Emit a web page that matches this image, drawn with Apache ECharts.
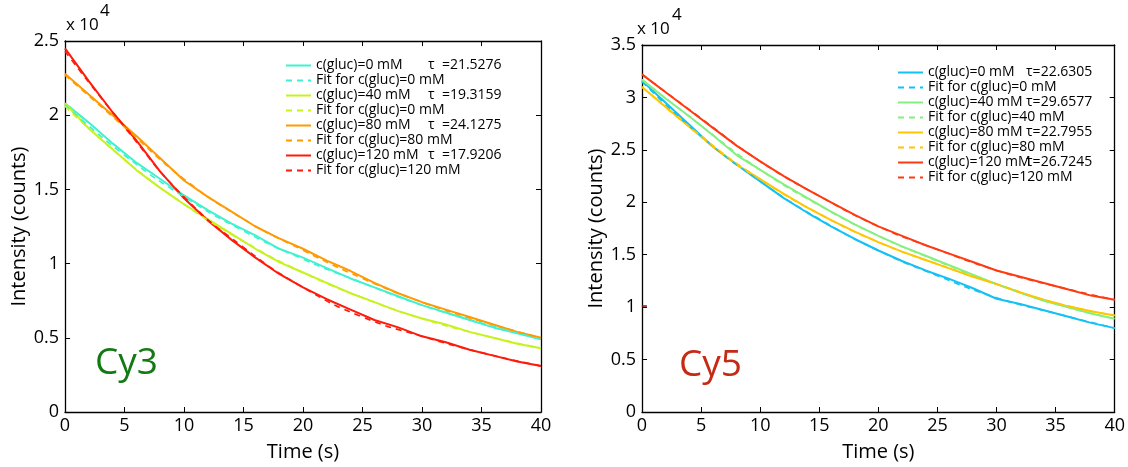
<!DOCTYPE html>
<html>
<head>
<meta charset="utf-8">
<script src="https://cdn.jsdelivr.net/npm/echarts@6/dist/echarts.min.js"></script>
<style>
html, body { margin: 0; padding: 0; background: #fff; }
#chart { width: 1128px; height: 467px; }
</style>
</head>
<body>
<div id="chart"></div>
<script>
// time grid (s) for the measured traces and for the fits
var times = [0, 2, 4, 6, 8, 10, 12, 14, 16, 18, 20, 22, 24, 26, 28, 30, 32, 34, 36, 38, 40];
var fitTimes = [0, 5, 10, 15, 20, 25, 30, 35, 40];

// Cy3 intensities (x 10^4 counts)
var cy3Gluc0   = [2.08, 1.95, 1.81, 1.68, 1.57, 1.46, 1.36, 1.27, 1.19, 1.10, 1.04, 0.97, 0.90, 0.84, 0.78, 0.72, 0.67, 0.62, 0.57, 0.53, 0.49];
var cy3Gluc40  = [2.08, 1.91, 1.77, 1.63, 1.51, 1.40, 1.30, 1.20, 1.10, 1.01, 0.94, 0.87, 0.80, 0.74, 0.68, 0.63, 0.59, 0.54, 0.50, 0.46, 0.43];
var cy3Gluc80  = [2.28, 2.14, 2.00, 1.86, 1.71, 1.56, 1.45, 1.35, 1.25, 1.17, 1.10, 1.02, 0.95, 0.87, 0.80, 0.74, 0.69, 0.64, 0.59, 0.54, 0.50];
var cy3Gluc120 = [2.45, 2.23, 2.02, 1.83, 1.62, 1.44, 1.29, 1.16, 1.04, 0.93, 0.84, 0.76, 0.69, 0.62, 0.57, 0.51, 0.47, 0.42, 0.38, 0.34, 0.31];
var cy3Fit0   = [2.07, 1.73, 1.45, 1.22, 1.03, 0.87, 0.72, 0.60, 0.49];
var cy3Fit40  = [2.06, 1.70, 1.40, 1.15, 0.94, 0.77, 0.63, 0.52, 0.43];
var cy3Fit80  = [2.27, 1.92, 1.57, 1.30, 1.09, 0.90, 0.74, 0.61, 0.50];
var cy3Fit120 = [2.43, 1.92, 1.45, 1.11, 0.84, 0.64, 0.51, 0.40, 0.31];

// Cy5 intensities (x 10^4 counts)
var cy5Gluc0   = [3.16, 2.95, 2.74, 2.53, 2.36, 2.20, 2.04, 1.90, 1.77, 1.65, 1.54, 1.44, 1.35, 1.27, 1.18, 1.08, 1.03, 0.97, 0.91, 0.85, 0.80];
var cy5Gluc40  = [3.17, 2.99, 2.82, 2.64, 2.45, 2.31, 2.17, 2.04, 1.91, 1.79, 1.68, 1.58, 1.49, 1.40, 1.31, 1.22, 1.14, 1.06, 1.00, 0.94, 0.89];
var cy5Gluc80  = [3.10, 2.91, 2.72, 2.53, 2.36, 2.22, 2.08, 1.95, 1.83, 1.72, 1.62, 1.53, 1.45, 1.37, 1.29, 1.22, 1.14, 1.07, 1.01, 0.96, 0.92];
var cy5Gluc120 = [3.22, 3.05, 2.88, 2.71, 2.54, 2.39, 2.25, 2.12, 2.00, 1.88, 1.77, 1.68, 1.59, 1.51, 1.43, 1.35, 1.29, 1.23, 1.17, 1.11, 1.07];
var cy5Fit0   = [3.15, 2.63, 2.20, 1.84, 1.54, 1.30, 1.09, 0.94, 0.80];
var cy5Fit40  = [3.17, 2.73, 2.31, 1.97, 1.68, 1.44, 1.22, 1.03, 0.89];
var cy5Fit80  = [3.10, 2.63, 2.22, 1.89, 1.62, 1.41, 1.22, 1.04, 0.92];
var cy5Fit120 = [3.22, 2.80, 2.39, 2.06, 1.77, 1.55, 1.35, 1.20, 1.07];
var cy5Stray = [[0.2, 1.01]];

var xTicks = [0, 40, 5];
var cy3YTicks = [0, 2.5, 0.5];
var cy5YTicks = [0, 3.5, 0.5];

var cy3Colors = ['#3ff2cf', '#c6f21e', '#ff9a00', '#ff1a0a'];
var cy5Colors = ['#14c1f5', '#84f07e', '#ffc600', '#ff3a12'];

var cy3Labels = {
    'cy3 0': ['c(gluc)=0 mM', 'τ  =21.5276'],
    'cy3 0 fit': ['Fit for c(gluc)=0 mM'],
    'cy3 40': ['c(gluc)=40 mM', 'τ  =19.3159'],
    'cy3 40 fit': ['Fit for c(gluc)=0 mM'],
    'cy3 80': ['c(gluc)=80 mM', 'τ  =24.1275'],
    'cy3 80 fit': ['Fit for c(gluc)=80 mM'],
    'cy3 120': ['c(gluc)=120 mM', 'τ  =17.9206'],
    'cy3 120 fit': ['Fit for c(gluc)=120 mM']
};
var cy5Labels = {
    'cy5 0': ['c(gluc)=0 mM', 'τ=22.6305'],
    'cy5 0 fit': ['Fit for c(gluc)=0 mM'],
    'cy5 40': ['c(gluc)=40 mM', 'τ=29.6577'],
    'cy5 40 fit': ['Fit for c(gluc)=40 mM'],
    'cy5 80': ['c(gluc)=80 mM', 'τ=22.7955'],
    'cy5 80 fit': ['Fit for c(gluc)=80 mM'],
    'cy5 120': ['c(gluc)=120 mM', 'τ=26.7245'],
    'cy5 120 fit': ['Fit for c(gluc)=120 mM']
};

var FONT = 'Open Sans';

function pairs(t, v) {
    return t.map(function (x, i) { return [x, v[i]]; });
}

function line(name, t, v, color, dashed, axisIdx) {
    return {
        name: name,
        type: 'line',
        xAxisIndex: axisIdx,
        yAxisIndex: axisIdx,
        symbol: 'none',
        smooth: dashed ? true : false,
        animation: false,
        data: pairs(t, v),
        lineStyle: {
            color: color,
            width: dashed ? 1.6 : 2,
            type: dashed ? [6, 5] : 'solid'
        },
        itemStyle: { color: color }
    };
}

function xAxis(grid, pos) {
    return {
        type: 'value', gridIndex: grid, position: pos,
        min: xTicks[0], max: xTicks[1], interval: xTicks[2],
        axisLine: { onZero: false, lineStyle: { color: '#000', width: 1.3 } },
        axisTick: { inside: true, length: 5, lineStyle: { color: '#000' } },
        axisLabel: { show: pos == 'bottom', color: '#000', fontSize: 18, fontFamily: FONT, margin: 5 },
        splitLine: { show: false },
        name: pos == 'bottom' ? 'Time (s)' : '',
        nameLocation: 'middle',
        nameGap: 30,
        nameTextStyle: { color: '#000', fontSize: 20, fontFamily: FONT }
    };
}

function yAxis(grid, pos, ticks) {
    return {
        type: 'value', gridIndex: grid, position: pos,
        min: ticks[0], max: ticks[1], interval: ticks[2],
        axisLine: { onZero: false, lineStyle: { color: '#000', width: 1.3 } },
        axisTick: { inside: true, length: 5, lineStyle: { color: '#000' } },
        axisLabel: { show: pos == 'left', color: '#000', fontSize: 18, fontFamily: FONT, margin: 6 },
        splitLine: { show: false },
        name: pos == 'left' ? 'Intensity (counts)' : '',
        nameLocation: 'middle',
        nameGap: 33,
        nameTextStyle: { color: '#000', fontSize: 20, fontFamily: FONT }
    };
}

function legend(names, labels, left, top, colWidth) {
    return {
        data: names,
        orient: 'vertical',
        left: left,
        top: top,
        itemWidth: 25,
        itemHeight: 15,
        itemGap: 0,
        padding: 0,
        selectedMode: false,
        itemStyle: { color: 'rgba(0,0,0,0)', borderWidth: 0, opacity: 0 },
        textStyle: {
            color: '#000', fontSize: 14, fontFamily: FONT, lineHeight: 15,
            rich: {
                a: { width: colWidth, fontSize: 14, fontFamily: FONT, color: '#000' },
                b: { fontSize: 14, fontFamily: FONT, color: '#000' },
                c: { fontSize: 14, fontFamily: FONT, color: '#000' }
            }
        },
        formatter: function (name) {
            var l = labels[name];
            if (l.length == 1) return '{c|' + l[0] + '}';
            return '{a|' + l[0] + '}{b|' + l[1] + '}';
        }
    };
}

var series = [
    line('cy3 0', times, cy3Gluc0, cy3Colors[0], false, 0),
    line('cy3 40', times, cy3Gluc40, cy3Colors[1], false, 0),
    line('cy3 80', times, cy3Gluc80, cy3Colors[2], false, 0),
    line('cy3 120', times, cy3Gluc120, cy3Colors[3], false, 0),
    line('cy3 0 fit', fitTimes, cy3Fit0, cy3Colors[0], true, 0),
    line('cy3 40 fit', fitTimes, cy3Fit40, cy3Colors[1], true, 0),
    line('cy3 80 fit', fitTimes, cy3Fit80, cy3Colors[2], true, 0),
    line('cy3 120 fit', fitTimes, cy3Fit120, cy3Colors[3], true, 0),
    line('cy5 0', times, cy5Gluc0, cy5Colors[0], false, 2),
    line('cy5 40', times, cy5Gluc40, cy5Colors[1], false, 2),
    line('cy5 80', times, cy5Gluc80, cy5Colors[2], false, 2),
    line('cy5 120', times, cy5Gluc120, cy5Colors[3], false, 2),
    line('cy5 0 fit', fitTimes, cy5Fit0, cy5Colors[0], true, 2),
    line('cy5 40 fit', fitTimes, cy5Fit40, cy5Colors[1], true, 2),
    line('cy5 80 fit', fitTimes, cy5Fit80, cy5Colors[2], true, 2),
    line('cy5 120 fit', fitTimes, cy5Fit120, cy5Colors[3], true, 2),
    {
        name: 'stray', type: 'scatter', xAxisIndex: 2, yAxisIndex: 2,
        symbol: 'rect', symbolSize: [5, 2], animation: false,
        itemStyle: { color: '#8a1010' }, data: cy5Stray
    }
];

var myChart = echarts.init(document.getElementById('chart'));
var option = {
    backgroundColor: '#fff',
    animation: false,
    grid: [
        { left: 65, top: 41, width: 476, height: 376, containLabel: false },
        { left: 642, top: 45, width: 475, height: 374, containLabel: false }
    ],
    xAxis: [xAxis(0, 'bottom'), xAxis(0, 'top'), xAxis(1, 'bottom'), xAxis(1, 'top')],
    yAxis: [yAxis(0, 'left', cy3YTicks), yAxis(0, 'right', cy3YTicks), yAxis(1, 'left', cy5YTicks), yAxis(1, 'right', cy5YTicks)],
    legend: [
        legend(['cy3 0', 'cy3 0 fit', 'cy3 40', 'cy3 40 fit', 'cy3 80', 'cy3 80 fit', 'cy3 120', 'cy3 120 fit'], cy3Labels, 285, 58, 112),
        legend(['cy5 0', 'cy5 0 fit', 'cy5 40', 'cy5 40 fit', 'cy5 80', 'cy5 80 fit', 'cy5 120', 'cy5 120 fit'], cy5Labels, 897, 65, 98)
    ],
    graphic: [
        { type: 'text', left: 66, top: 17, style: { text: 'x 10', fontSize: 17, fontFamily: FONT, fill: '#000' } },
        { type: 'text', left: 100, top: 3, style: { text: '4', fontSize: 17, fontFamily: FONT, fill: '#000' } },
        { type: 'text', left: 637, top: 21, style: { text: 'x 10', fontSize: 17, fontFamily: FONT, fill: '#000' } },
        { type: 'text', left: 672, top: 7, style: { text: '4', fontSize: 17, fontFamily: FONT, fill: '#000' } },
        { type: 'text', left: 95, top: 345, style: { text: 'Cy3', fontSize: 37, fontFamily: FONT, fill: '#137a13' } },
        { type: 'text', left: 679, top: 347, style: { text: 'Cy5', fontSize: 37, fontFamily: FONT, fill: '#c42a14' } }
    ],
    series: series
};
myChart.setOption(option);
</script>
</body>
</html>
